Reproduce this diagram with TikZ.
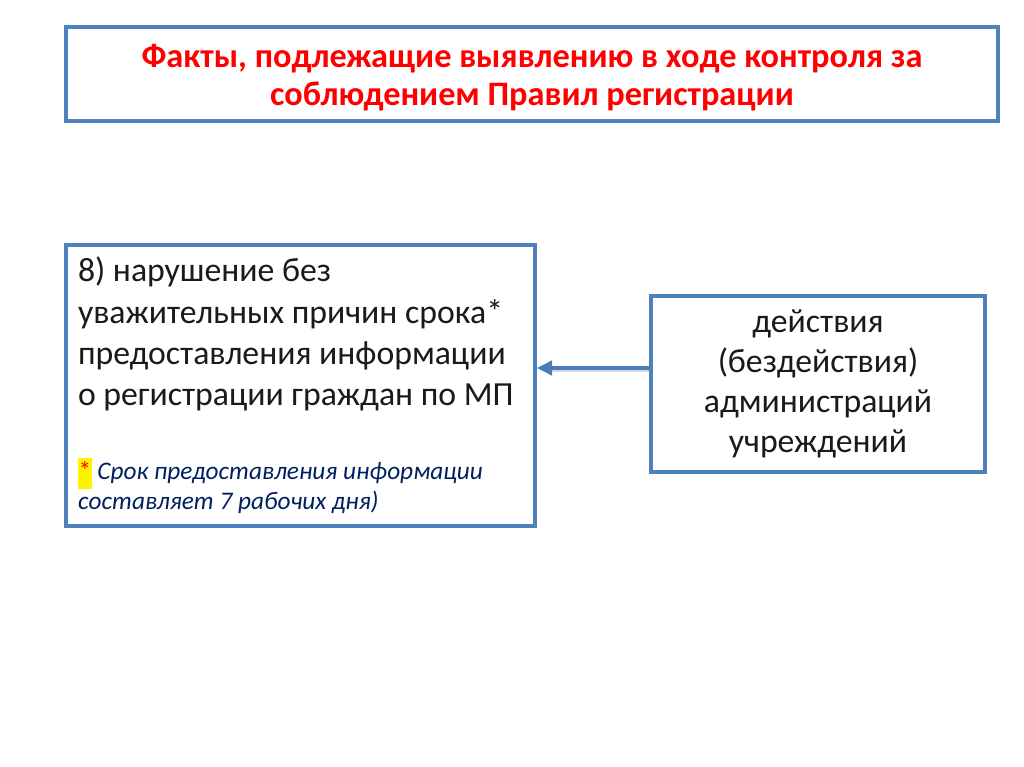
\documentclass[tikz,border=0pt]{standalone}
\usepackage{fontspec}
\setmainfont{Carlito}
\usepackage{tikz}
\usetikzlibrary{calc,positioning,arrows.meta}
\usepackage{xcolor}
\definecolor{ramka}{HTML}{4F81BD}
\definecolor{strelka}{HTML}{4A7EBB}
\definecolor{zagolovok}{HTML}{FF0000}
\definecolor{tekst}{HTML}{1A1A1A}
\definecolor{sinij}{HTML}{002060}

\tikzset{
  blok/.style={draw=ramka, line width=2.2pt, fill=white, text=tekst},
  strelka/.style={draw=strelka, line width=2.8pt, -{Triangle[length=11pt,width=10pt]}}
}

\begin{document}
\begin{tikzpicture}
\useasboundingbox (0,0) rectangle (25.6,-19.175);

%====================================================
% ZAGOLOVOK
%====================================================
\node[blok, minimum width=23.3cm, minimum height=2.35cm] (zagol) at (13.3,-1.85) {};
\node[align=center, font=\fontsize{24.4}{27}\selectfont\bfseries, text=zagolovok]
  (zagtekst) at ([yshift=-0.1cm]zagol.center)
  {Факты, подлежащие выявлению в ходе контроля за\\
   соблюдением Правил регистрации};

%====================================================
% BLOKI
%====================================================
\node[blok, text width=11.125cm, inner xsep=0.3cm, minimum height=7.025cm, align=flush left,
  font=\fontsize{24}{29.5}\selectfont] (narush) at (7.5125,-9.6375)
  {8) нарушение без\\
   уважительных причин срока*\\
   предоставления информации\\
   о регистрации граждан по МП\par\vspace{31pt}
   {\fontsize{18}{21.5}\selectfont\itshape\color{sinij}%
   {\setlength\fboxsep{0.4pt}\colorbox{yellow}{\strut\color{zagolovok}\upshape*}} Срок предоставления информации\\
   составляет 7 рабочих дня)\par}};

\node[blok, minimum width=8.35cm, minimum height=4.4cm, align=center,
  font=\fontsize{24}{28.4}\selectfont] (dejstv) at (20.45,-9.6)
  {действия\\
   (бездействия)\\
   администраций\\
   учреждений};

% strelka s tenju
\draw[line width=2.8pt, draw=black!25, opacity=0.6]
  ([yshift=0.35cm]dejstv.west) -- ([yshift=0.35cm,xshift=0.35cm]dejstv.west -| narush.east);
\draw[strelka] ([yshift=0.4cm]dejstv.west) -- ([yshift=0.4cm]dejstv.west -| narush.east);
\end{tikzpicture}
\end{document}
